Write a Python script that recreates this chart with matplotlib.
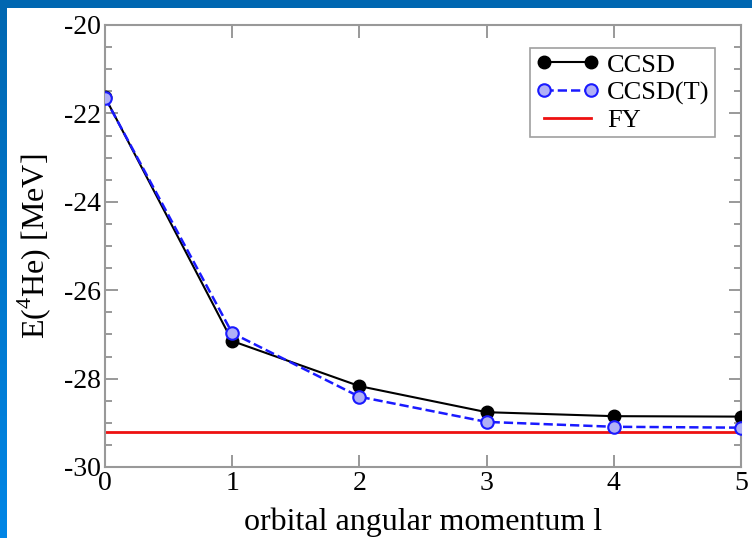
import matplotlib
matplotlib.use("Agg")
import matplotlib.pyplot as plt
import numpy as np
from matplotlib.colors import LinearSegmentedColormap
from matplotlib.ticker import MultipleLocator

plt.rcParams["font.family"] = ["Liberation Serif", "DejaVu Serif"]
plt.rcParams["mathtext.fontset"] = "custom"
plt.rcParams["mathtext.rm"] = "Liberation Serif"
plt.rcParams["axes.unicode_minus"] = False

# data
l_vals = [0, 1, 2, 3, 4, 5]
ccsd = [-21.63, -27.15, -28.17, -28.76, -28.85, -28.86]
ccsd_t = [-21.65, -26.97, -28.41, -28.98, -29.09, -29.11]
fy_energy = -29.21

fig = plt.figure(figsize=(7.52, 5.38), dpi=100, facecolor="white")

# slide-style blue border (top strip + gradient strip on the left)
top = fig.add_axes([0, 1 - 8 / 538, 1, 8 / 538])
top.set_axis_off()
top.add_patch(plt.Rectangle((0, 0), 1, 1, color="#0067b1", transform=top.transAxes))
left = fig.add_axes([0, 0, 7 / 752, 1])
grad = np.linspace(0, 1, 256).reshape(-1, 1)
cmap = LinearSegmentedColormap.from_list("b", ["#0067b1", "#0086e6"])
left.imshow(grad, aspect="auto", cmap=cmap, extent=[0, 1, 0, 1], origin="upper")
left.set_axis_off()

ax = fig.add_axes([105 / 752, 1 - 467 / 538, 636 / 752, 442 / 538])
ax.plot(l_vals, ccsd, "-o", color="black", lw=1.5, ms=9, label="CCSD", zorder=3)
ax.plot(l_vals, ccsd_t, "--o", color="#1a1aff", lw=1.8, ms=9,
        mfc="#b0b0f6", mec="#1a1aff", mew=1.5, label="CCSD(T)", zorder=4)
ax.axhline(fy_energy, color="#ee1111", lw=2, label="FY", zorder=2)

ax.set_xlim(0, 5)
ax.set_ylim(-30, -20)
ax.xaxis.set_major_locator(MultipleLocator(1))
ax.yaxis.set_major_locator(MultipleLocator(2))
ax.yaxis.set_minor_locator(MultipleLocator(0.5))
ax.tick_params(which="both", direction="in", top=True, right=True, color="#888888")
ax.tick_params(which="major", length=9, width=1.2, labelsize=20, pad=3)
ax.tick_params(which="minor", length=5, width=1.2)
for s in ax.spines.values():
    s.set_color("#999999")
    s.set_linewidth(1.5)

ax.set_xlabel("orbital angular momentum l", fontsize=23)
ax.xaxis.set_label_coords(0.5, -0.092)
ax.set_ylabel("E($^4$He) [MeV]", fontsize=23, labelpad=8)

leg = ax.legend(loc="upper right", bbox_to_anchor=(0.967, 0.96), fontsize=19,
                frameon=True, fancybox=False, numpoints=2, handlelength=2.4,
                borderpad=0.2, labelspacing=0.15, handletextpad=0.3,
                borderaxespad=0.2)
leg.get_frame().set_edgecolor("#888888")
leg.get_frame().set_linewidth(1.2)

fig.savefig("out.png", dpi=100, facecolor="white")
